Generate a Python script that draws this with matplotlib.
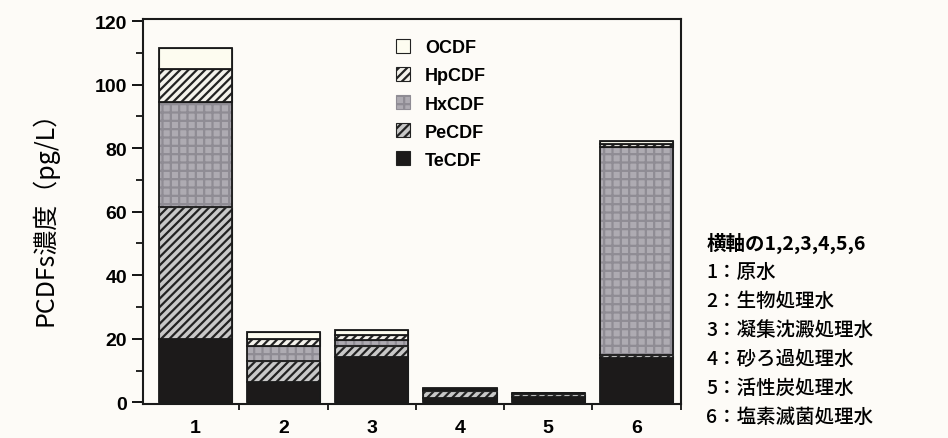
import matplotlib
matplotlib.use('Agg')
import matplotlib.pyplot as plt
import numpy as np

plt.rcParams['font.family'] = ['Liberation Sans', 'Noto Sans CJK JP', 'DejaVu Sans']
plt.rcParams['hatch.linewidth'] = 1.6

# values (pg/L)
samples = ['1', '2', '3', '4', '5', '6']
tecdf = [20.0, 6.3, 14.2, 1.2, 1.6, 13.8]
pecdf = [41.5, 6.6, 3.5, 2.3, 1.0, 1.0]
hxcdf = [33.0, 4.7, 2.0, 0.4, 0.2, 65.5]
hpcdf = [10.5, 2.2, 1.5, 0.3, 0.1, 1.0]
ocdf = [6.5, 2.2, 1.5, 0.3, 0.1, 1.0]

notes = ['横軸の1,2,3,4,5,6',
         '1：原水',
         '2：生物処理水',
         '3：凝集沈澱処理水',
         '4：砂ろ過処理水',
         '5：活性炭処理水',
         '6：塩素滅菌処理水']

series = [
    ('TeCDF', tecdf, '#1c1a1a', None),
    ('PeCDF', pecdf, '#c8c8c8', '////'),
    ('HxCDF', hxcdf, '#aeabb2', '++'),
    ('HpCDF', hpcdf, '#f4f2ec', '////'),
    ('OCDF', ocdf, '#fdfcf0', None),
]

fig = plt.figure(figsize=(9.48, 4.39), dpi=100)
fig.patch.set_facecolor('#fdfbf7')
ax = fig.add_axes([0.151, 0.077, 0.567, 0.877])
ax.set_facecolor('#fdfbf7')

x = np.arange(len(samples))
bottom = np.zeros(len(samples))
handles = []
for name, vals, color, hatch in series:
    ec = '#222222' if name != 'HxCDF' else '#8f8c94'
    b = ax.bar(x, vals, 0.83, bottom=bottom, color=color, hatch=hatch,
               edgecolor=ec, linewidth=0.8, label=name)
    # outline each segment in black
    ax.bar(x, vals, 0.83, bottom=bottom, fill=False, edgecolor='#1a1a1a',
           linewidth=1.3)
    bottom += np.array(vals)
    handles.append(b)

ax.set_xlim(-0.59, 5.5)
ax.set_ylim(-0.6, 120.6)
ax.set_yticks(np.arange(0, 121, 20))
ax.set_yticks(np.arange(0, 121, 10), minor=True)
ax.set_xticks(x)
ax.set_xticklabels(samples)
ax.set_xticks(x + 0.5, minor=True)
ax.tick_params(axis='x', which='major', length=0, pad=11)
ax.tick_params(axis='x', which='minor', length=4, width=1.2)
ax.tick_params(axis='y', which='major', length=8, width=1.3)
ax.tick_params(axis='y', which='minor', length=5, width=1.2)
for lab in ax.get_xticklabels() + ax.get_yticklabels():
    lab.set_fontsize(14)
    lab.set_fontweight('bold')
for s in ax.spines.values():
    s.set_linewidth(1.5)
    s.set_color('#1a1a1a')

ax.set_ylabel('PCDFs濃度（pg/L）', fontsize=18,
              family=['Noto Sans CJK JP', 'DejaVu Sans'], labelpad=26)

leg = ax.legend(handles[::-1], [h.get_label() for h in handles[::-1]],
                loc='upper left', bbox_to_anchor=(0.44, 0.99), frameon=False,
                handlelength=0.8, handleheight=0.8, handletextpad=0.8,
                labelspacing=0.6, prop={'weight': 'bold', 'size': 13})

for i, t in enumerate(notes):
    fig.text(0.745, 0.445 - i * 0.066, t, fontsize=14,
             family=['Noto Sans CJK JP', 'DejaVu Sans'],
             weight='bold' if i == 0 else 'medium', va='center')

fig.savefig('out.png', dpi=100, facecolor=fig.get_facecolor())
